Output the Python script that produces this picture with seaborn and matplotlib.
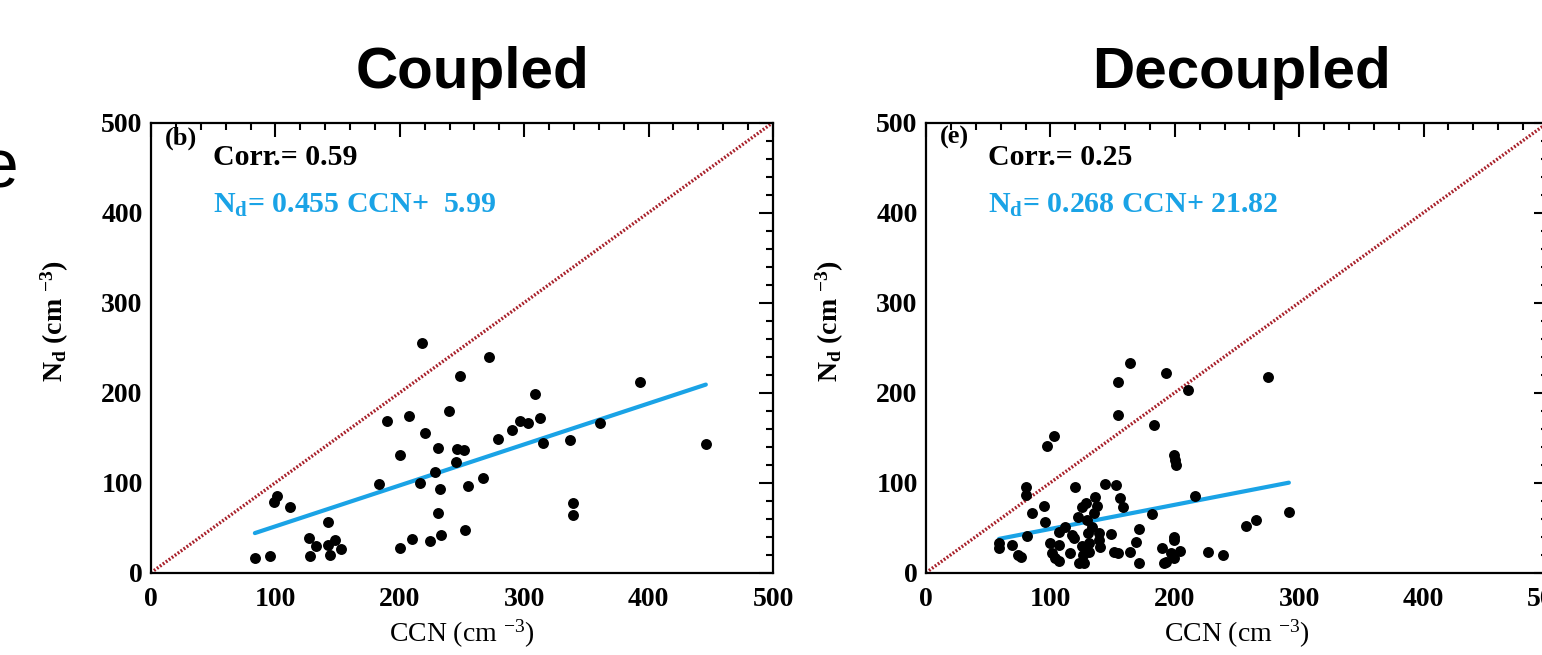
import numpy as np
import pandas as pd
import matplotlib
matplotlib.use("Agg")
import matplotlib.pyplot as plt
from matplotlib.ticker import MultipleLocator
import seaborn as sns

# ---------------- data ----------------
coupled_ccn = [83.5, 95.8, 99, 101, 112, 127, 128, 133, 142, 142, 144, 148, 153,
               183, 190, 200, 200, 207, 210, 216, 218, 220, 224.5, 228, 230.5, 230.5,
               232, 233.5, 239.5, 245.5, 246, 248, 252, 252.5, 254.5, 267, 272, 279,
               290, 297, 303, 309, 313, 315, 337, 339, 339, 361, 393, 446]
coupled_nd = [16, 18.5, 78, 85, 73, 38, 19, 30, 56, 31, 20, 36, 26,
              98.5, 169, 131, 27, 174, 37, 100, 255.6, 155, 35.6, 112, 139, 66,
              93, 41.5, 180, 122.6, 137, 218.5, 136, 47.4, 96.7, 105, 240, 148.5,
              158.5, 169, 166.7, 198, 172, 143.7, 147.8, 77, 64, 166, 212, 143]

decoupled_ccn = [58.7, 58.7, 69, 74, 76.5, 80.7, 80.7, 81.4, 85, 95, 96, 97, 103,
                 100, 101, 104, 107, 107, 107, 112, 115.5, 117.4, 119, 120, 122,
                 123, 127, 125, 129, 125, 126, 129.5, 130, 131, 131, 133.7, 135, 136,
                 137.5, 139, 139, 140, 144, 148.5, 152.6, 151, 154, 154, 154, 156, 158,
                 163.6, 164, 168.5, 171, 171, 182, 183, 190, 191, 193, 193, 197,
                 199, 200, 200.8, 199, 199.6, 199, 204.5, 211, 216, 227, 239, 257.6,
                 265, 274.6, 291.7]
decoupled_nd = [32.6, 27, 30.7, 19.6, 17, 94.8, 86.3, 40.7, 66, 74, 56.7, 140.7, 151.9,
                32.6, 21.5, 16, 13, 45.6, 30.7, 51, 21.5, 41.9, 38, 95.6, 62,
                10.4, 10.4, 73, 77.8, 30, 19.6, 59, 44, 32.6, 23, 51, 66, 84.4,
                74, 43.7, 36, 29, 98.5, 43, 97.4, 23, 21.5, 212, 175, 82.6, 73,
                232.6, 23, 34.4, 11, 49, 65, 164, 27, 10.4, 12, 221.5, 21.5,
                130.7, 125, 119.6, 40, 36, 16, 24.4, 203, 85, 23, 19.6, 51.9,
                59, 217.8, 67.8]

panel_titles = ["Coupled", "Decoupled"]
panel_tags = ["(b)", "(e)"]
corr_values = [0.59, 0.25]
fit_slopes = [0.455, 0.268]
fit_intercepts = [5.99, 21.82]
fit_labels = ["N$_{\\rm d}$= 0.455 CCN+  5.99", "N$_{\\rm d}$= 0.268 CCN+ 21.82"]
one_to_one = [0, 500]
tick_values = [0, 100, 200, 300, 400, 500]

# ---------------- style ----------------
sns.set_style("white")
plt.rcParams["font.family"] = ["Liberation Serif", "DejaVu Serif"]
plt.rcParams["text.color"] = "black"
plt.rcParams["axes.labelcolor"] = "black"
plt.rcParams["xtick.color"] = "black"
plt.rcParams["ytick.color"] = "black"
plt.rcParams["mathtext.fontset"] = "custom"
plt.rcParams["mathtext.rm"] = "Liberation Serif:bold"
plt.rcParams["mathtext.it"] = "Liberation Serif:italic:bold"
plt.rcParams["mathtext.bf"] = "Liberation Serif:bold"

W, H = 1542, 655
fig = plt.figure(figsize=(W / 100, H / 100), dpi=100)

CYAN = "#1AA3E6"
RED = "#A8202A"

panels = [
    (coupled_ccn, coupled_nd),
    (decoupled_ccn, decoupled_nd),
]
left_px = [151, 926]
title_x_px = [472, 1241]
ax_w_px = 622
ax_top_px, ax_bot_px = 122.5, 572.7

for i, (xs, ys) in enumerate(panels):
    ax = fig.add_axes([left_px[i] / W, 1 - ax_bot_px / H, ax_w_px / W,
                       (ax_bot_px - ax_top_px) / H])
    df = pd.DataFrame({"CCN": xs, "Nd": ys})

    # 1:1 line
    sns.lineplot(x=one_to_one, y=one_to_one, ax=ax, color=RED, lw=2.4,
                 linestyle=(0, (0.55, 0.55)), zorder=1)
    # points
    sns.scatterplot(data=df, x="CCN", y="Nd", ax=ax, color="black", s=62,
                    edgecolor="black", linewidth=0, zorder=3)
    # regression line over data range
    xr = np.array([min(xs), max(xs)])
    sns.lineplot(x=xr, y=fit_slopes[i] * xr + fit_intercepts[i], ax=ax,
                 color=CYAN, lw=3, zorder=2)

    ax.set_xlim(0, 500)
    ax.set_ylim(0, 500)
    ax.set_xticks(tick_values)
    ax.set_yticks(tick_values)
    ax.xaxis.set_minor_locator(MultipleLocator(20))
    ax.yaxis.set_minor_locator(MultipleLocator(20))
    ax.tick_params(which="both", direction="in", top=True, right=True,
                   color="black", width=1.5)
    ax.tick_params(which="major", length=10, labelsize=20, pad=6)
    ax.tick_params(axis="x", which="major", pad=10)
    ax.tick_params(which="minor", length=5)
    for lab in ax.get_xticklabels() + ax.get_yticklabels():
        lab.set_fontweight("bold")
    for sp in ax.spines.values():
        sp.set_linewidth(1.6)
        sp.set_color("black")

    ax.set_xlabel("CCN (cm $^{\\mathregular{-3}}$)", fontsize=20,
                  fontweight="normal")
    ax.set_ylabel("N$_{\\rm d}$ (cm $^{-3}$)", fontsize=20, fontweight="bold")
    ax.xaxis.set_label_coords(0.5, -0.10)
    ax.yaxis.set_label_coords(-0.128, 0.56)

    ax.text(11, 483, panel_tags[i], fontsize=19, fontweight="bold",
            ha="left", va="center")
    ax.text(50, 461, f"Corr.= {corr_values[i]:.2f}", fontsize=21.5,
            fontweight="bold", ha="left", va="center", color="black")
    ax.text(50, 408, fit_labels[i], fontsize=21.5, fontweight="bold",
            ha="left", va="center", color=CYAN)

    fig.text(title_x_px[i] / W, 1 - 88 / H, panel_titles[i],
             fontsize=42, fontweight="bold",
             family=["Liberation Sans", "DejaVu Sans"],
             ha="center", va="baseline", color="black")

# cut-off letter at the left edge of the reference
fig.text(19 / W, 1 - 188 / H, "e", fontsize=50,
         family=["Liberation Sans", "DejaVu Sans"], ha="right", va="baseline",
         color="black")

fig.savefig("out.png", dpi=100)
